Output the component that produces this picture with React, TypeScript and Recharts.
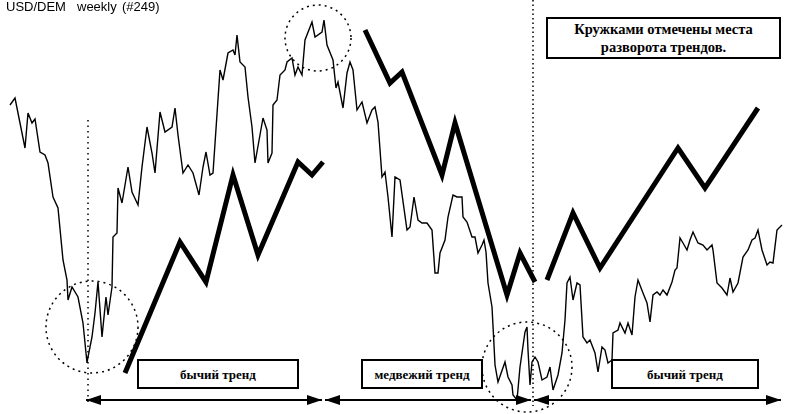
import React from 'react';
import {
  ComposedChart,
  Line,
  XAxis,
  YAxis,
  ReferenceDot,
  ReferenceLine,
  ReferenceArea,
} from 'recharts';

const W = 790;
const H = 414;

// weekly price (arbitrary level units)
const priceWeeks = [
  10, 15, 25, 28, 32, 35, 40, 45, 48, 53, 58, 63, 67, 68, 72, 78, 83, 87, 88, 92,
  95, 98, 102, 106, 108, 112, 113, 117, 118, 122, 128, 132, 138, 142, 147, 152, 155, 160, 165, 172,
  175, 178, 183, 188, 193, 199, 203, 206, 210, 213, 220, 223, 228, 233, 235, 237, 240, 245, 248, 252,
  255, 263, 267, 268, 272, 273, 277, 280, 285, 287, 292, 295, 298, 302, 305, 312, 315, 322, 324, 327,
  333, 336, 338, 343, 347, 350, 353, 357, 362, 367, 372, 375, 378, 382, 385, 388, 392, 395, 400, 407,
  410, 414, 418, 422, 427, 432, 435, 438, 440, 445, 448, 453, 457, 462, 463, 467, 472, 475, 478, 482,
  484, 486, 488, 492, 494, 495, 498, 505, 508, 512, 513, 517, 520, 525, 527, 528, 530, 532, 535, 538,
  542, 547, 550, 553, 558, 562, 565, 567, 570, 573, 577, 580, 583, 587, 590, 595, 598, 602, 605, 608,
  612, 613, 618, 620, 625, 628, 632, 635, 638, 643, 647, 650, 653, 657, 660, 663, 667, 672, 675, 677,
  680, 683, 687, 690, 693, 698, 703, 707, 712, 713, 717, 722, 727, 730, 733, 738, 743, 748, 752, 755,
  758, 762, 767, 770, 773, 777, 782,
];
const priceLevels = [
  309, 316, 266, 301, 291, 295, 262, 259, 251, 217, 206, 154, 134, 114, 127, 117, 91, 51, 57, 77,
  101, 132, 77, 117, 99, 127, 177, 181, 226, 211, 247, 222, 209, 247, 287, 261, 241, 302, 282, 287,
  306, 279, 241, 249, 241, 219, 247, 262, 239, 241, 344, 334, 361, 364, 359, 379, 352, 347, 317, 287,
  251, 296, 284, 251, 261, 309, 314, 339, 344, 352, 356, 339, 347, 339, 374, 392, 377, 382, 394, 369,
  354, 326, 332, 306, 341, 352, 344, 304, 312, 291, 304, 307, 292, 237, 242, 217, 177, 237, 234, 184,
  187, 217, 194, 191, 191, 184, 141, 141, 161, 174, 197, 219, 217, 217, 197, 192, 177, 177, 161, 169,
  174, 162, 131, 107, 69, 49, 32, 52, 37, 29, 19, 14, 47, 82, 87, 64, 29, 52, 57, 52,
  34, 37, 47, 24, 39, 61, 94, 131, 137, 114, 131, 129, 77, 71, 74, 61, 42, 67, 64, 51,
  54, 81, 84, 91, 81, 91, 79, 117, 134, 121, 111, 92, 119, 122, 119, 124, 119, 132, 144, 146,
  176, 171, 164, 174, 182, 171, 169, 164, 169, 164, 131, 126, 119, 136, 122, 131, 157, 164, 174, 176,
  184, 164, 149, 152, 151, 184, 189,
];

// trend zigzags
const bull1Weeks = [125, 180, 206, 233, 258, 298, 312, 323];
const bull1Levels = [41, 172, 132, 239, 159, 252, 239, 252];
const bearWeeks = [365, 390, 402, 442, 455, 507, 520, 535];
const bearLevels = [384, 331, 342, 239, 291, 119, 161, 132];
const bull2Weeks = [547, 573, 600, 678, 705, 758];
const bull2Levels = [134, 201, 146, 266, 226, 306];

// reversal circles: [week, level, radius]
const circles = [
  [92, 87, 46],
  [318, 376, 33],
  [527, 47, 45],
];

// trend boxes
const trendLabels = ['бычий тренд', 'медвежий тренд', 'бычий тренд'];
const trendBoxWeeks = [[138, 298], [362, 482], [612, 758]];
const noteLines = ['Кружками отмечены места', 'разворота трендов.'];

// trend spans along the bottom
const spans = [[86, 322], [325, 531], [534, 781]];

const zip = (xs: number[], ys: number[]) => xs.map((t, i) => ({ t, v: ys[i] }));

const priceData = zip(priceWeeks, priceLevels);
const bull1Data = zip(bull1Weeks, bull1Levels);
const bearData = zip(bearWeeks, bearLevels);
const bull2Data = zip(bull2Weeks, bull2Levels);

const serif = '"Liberation Serif", "Times New Roman", serif';

function BoxText({ viewBox, lines, size = 13 }: { viewBox?: any; lines: string[]; size?: number }) {
  if (!viewBox) return null;
  const { x, y, width, height } = viewBox;
  const lh = 18;
  const top = y + height / 2 - ((lines.length - 1) * lh) / 2;
  return (
    <g>
      {lines.map((s, i) => (
        <text
          key={i}
          x={x + width / 2}
          y={top + i * lh}
          textAnchor="middle"
          dominantBaseline="central"
          fontFamily={serif}
          fontWeight="bold"
          fontSize={size}
          fill="#000"
        >
          {s}
        </text>
      ))}
    </g>
  );
}

function ArrowSpan(props: any) {
  const { x1, y1, x2, y2 } = props;
  const len = 15;
  const half = 5;
  return (
    <g>
      <line x1={x1} y1={y1} x2={x2} y2={y2} stroke="#000" strokeWidth={2} />
      <polygon points={`${x1},${y1} ${x1 + len},${y1 - half} ${x1 + len},${y1 + half}`} fill="#000" />
      <polygon points={`${x2},${y2} ${x2 - len},${y2 - half} ${x2 - len},${y2 + half}`} fill="#000" />
    </g>
  );
}

export default function App() {
  return (
    <div style={{ position: 'fixed', left: 0, top: 0, width: W, height: H, background: '#fff' }}>
      <div
        style={{
          position: 'absolute',
          left: 0,
          top: 0,
          width: 170,
          height: 16,
          fontFamily: '"Liberation Sans", Arial, sans-serif',
          fontSize: 13,
          color: '#000',
          zIndex: 2,
        }}
      >
        <span style={{ position: 'absolute', left: 6, top: -1 }}>USD/DEM</span>
        <span style={{ position: 'absolute', left: 77, top: -1 }}>weekly</span>
        <span style={{ position: 'absolute', left: 122, top: -1 }}>(#249)</span>
      </div>
      <ComposedChart width={W} height={H} margin={{ top: 0, right: 0, bottom: 0, left: 0 }}>
        <XAxis type="number" dataKey="t" domain={[0, W]} hide allowDataOverflow />
        <YAxis type="number" dataKey="v" domain={[0, H]} hide allowDataOverflow />

        <ReferenceLine
          segment={[{ x: 88, y: 294 }, { x: 88, y: 8 }]}
          stroke="#000"
          strokeWidth={1.5}
          strokeDasharray="1.5 4"
        />
        <ReferenceLine
          segment={[{ x: 533, y: 414 }, { x: 533, y: 8 }]}
          stroke="#000"
          strokeWidth={1.5}
          strokeDasharray="1.5 3"
        />

        <Line
          data={priceData}
          dataKey="v"
          type="linear"
          stroke="#000"
          strokeWidth={1.4}
          dot={false}
          activeDot={false}
          isAnimationActive={false}
        />
        <Line
          data={bull1Data}
          dataKey="v"
          type="linear"
          stroke="#000"
          strokeWidth={5}
          dot={false}
          activeDot={false}
          isAnimationActive={false}
        />
        <Line
          data={bearData}
          dataKey="v"
          type="linear"
          stroke="#000"
          strokeWidth={5}
          dot={false}
          activeDot={false}
          isAnimationActive={false}
        />
        <Line
          data={bull2Data}
          dataKey="v"
          type="linear"
          stroke="#000"
          strokeWidth={5}
          dot={false}
          activeDot={false}
          isAnimationActive={false}
        />

        {circles.map(([t, v, r], i) => (
          <ReferenceDot
            key={`c${i}`}
            x={t}
            y={v}
            r={r}
            fill="none"
            stroke="#000"
            strokeWidth={1.5}
            strokeDasharray="2 4"
            ifOverflow="visible"
          />
        ))}

        {trendLabels.map((s, i) => (
          <ReferenceArea
            key={`b${i}`}
            x1={trendBoxWeeks[i][0]}
            x2={trendBoxWeeks[i][1]}
            y1={26}
            y2={54}
            fill="#fff"
            fillOpacity={1}
            stroke="#000"
            strokeWidth={2}
            label={(p: any) => <BoxText viewBox={p.viewBox} lines={[s]} />}
          />
        ))}
        <ReferenceArea
          x1={547}
          x2={780}
          y1={356}
          y2={396}
          fill="#fff"
          fillOpacity={1}
          stroke="#000"
          strokeWidth={2}
          label={(p: any) => <BoxText viewBox={p.viewBox} lines={noteLines} size={14.5} />}
        />

        {spans.map(([a, b], i) => (
          <ReferenceLine
            key={`s${i}`}
            segment={[{ x: a, y: 14 }, { x: b, y: 14 }]}
            shape={ArrowSpan}
          />
        ))}
      </ComposedChart>
    </div>
  );
}
